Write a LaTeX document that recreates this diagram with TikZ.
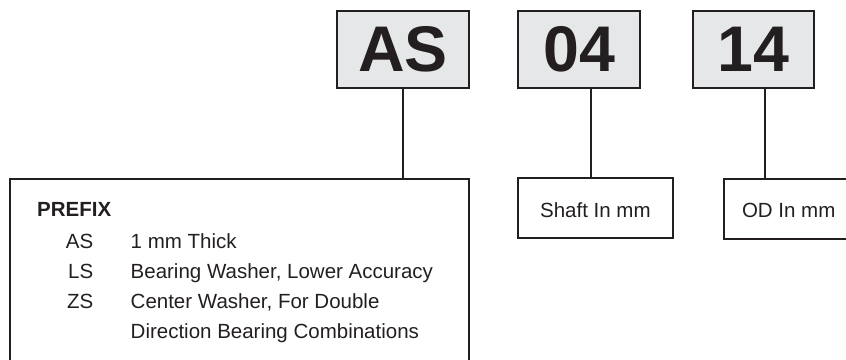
\documentclass[tikz,border=0pt]{standalone}
\usepackage{fontspec}
\setmainfont{Liberation Sans}
\definecolor{ink}{HTML}{231F20}
\definecolor{boxgray}{HTML}{E6E7E8}
\tikzset{
  codebox/.style={draw=ink, fill=boxgray, line width=2pt, inner sep=0pt,
    minimum width=131pt, minimum height=77.6pt, text=ink,
    font=\fontsize{64.5}{64}\selectfont\bfseries},
  plainbox/.style={draw=ink, line width=2pt, inner sep=0pt, text=ink,
    font=\fontsize{20.5}{24}\selectfont},
  lbl/.style={inner sep=0pt, text=ink, font=\fontsize{20.5}{24}\selectfont},
  stem/.style={draw=ink, line width=2pt}
}
\begin{document}
\begin{tikzpicture}[x=1pt,y=-1pt]
\useasboundingbox (0,0) rectangle (846,359);
\clip (0,0) rectangle (846,359);
% top code boxes
\node[codebox, minimum width=131.7pt] (as) at (403.2,49.5) {AS};
\node[codebox, minimum width=122pt] (n04) at (579.3,49.5) {04};
\node[codebox, minimum width=121.6pt] (n14) at (753.5,49.5) {14};
% lower boxes
\node[plainbox, anchor=north west, minimum width=459pt, minimum height=240pt] (prefix) at (9.3,177.8) {};
\node[plainbox, minimum width=154.5pt, minimum height=60.5pt] (shaft) at (595.4,208) {};
\node[lbl, anchor=base] (shafttxt) at (595.4,217.3) {Shaft In mm};
\node[plainbox, anchor=north west, minimum width=200pt, minimum height=60pt] (od) at (723,178.3) {};
\node[lbl, anchor=base west] (odtxt) at (741.8,217.3) {OD In mm};
% prefix contents
\node[lbl, anchor=base west, font=\fontsize{20.5}{24}\selectfont\bfseries] (ptitle) at (37,216.7) {PREFIX};
\node[lbl, anchor=base east] (c1) at (93.5,248) {AS};
\node[lbl, anchor=base east] (c2) at (93.5,278) {LS};
\node[lbl, anchor=base east] (c3) at (93.5,308) {ZS};
\node[lbl, anchor=base west] (d1) at (130.5,248) {1 mm Thick};
\node[lbl, anchor=base west] (d2) at (130.5,278) {Bearing Washer, Lower Accuracy};
\node[lbl, anchor=base west] (d3) at (130.5,308) {Center Washer, For Double};
\node[lbl, anchor=base west] (d4) at (130.5,338) {Direction Bearing Combinations};
% stems
\coordinate (s1) at (403.3,0);
\coordinate (s2) at (590.8,0);
\coordinate (s3) at (765,0);
\draw[stem] (s1 |- as.south) -- (s1 |- prefix.north);
\draw[stem] (s2 |- n04.south) -- (s2 |- shaft.north);
\draw[stem] (s3 |- n14.south) -- (s3 |- od.north);
\end{tikzpicture}
\end{document}
